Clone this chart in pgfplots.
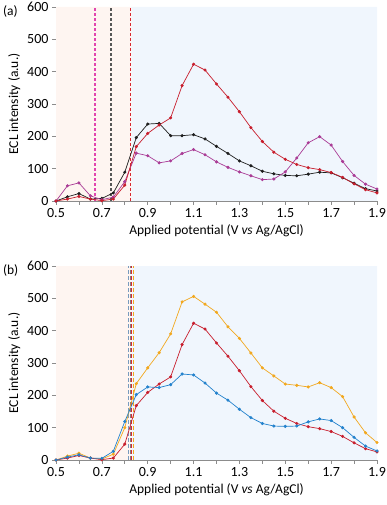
\documentclass[border=0pt]{standalone}
\usepackage{fontspec}
\setmainfont{Carlito}
\usepackage{pgfplots}
\pgfplotsset{compat=1.18}
\definecolor{redser}{RGB}{200,30,45}
\definecolor{blackser}{RGB}{30,30,30}
\definecolor{magser}{RGB}{170,60,150}
\definecolor{orangeser}{RGB}{242,168,30}
\definecolor{blueser}{RGB}{35,130,205}
\definecolor{pinkdash}{RGB}{225,70,175}
\definecolor{reddash}{RGB}{215,40,50}
\definecolor{steeldash}{RGB}{120,155,190}
\definecolor{pinkbg}{RGB}{254,245,241}
\definecolor{bluebg}{RGB}{240,246,253}
\definecolor{axgray}{RGB}{140,140,140}

\pgfplotsset{
  eclax/.style={
    scale only axis, width=321pt, height=194pt,
    xmin=0.5, xmax=1.9, ymin=0, ymax=600,
    axis x line*=bottom, axis y line*=left,
    every outer x axis line/.append style={-},
    every outer y axis line/.append style={-},
    axis line style={axgray, line width=0.7pt},
    xtick={0.5,0.7,...,1.91}, minor xtick={0.6,0.8,...,1.81},
    ytick={0,100,...,600},
    tick align=outside, major tick length=4pt, minor tick length=4pt,
    tick style={axgray, line width=0.6pt},
    xticklabel style={/pgf/number format/.cd, fixed, fixed zerofill, precision=1},
    /pgf/number format/assume math mode=true,
    tick label style={font=\fontsize{14}{16}\selectfont},
    label style={font=\fontsize{13.5}{15}\selectfont},
    xlabel={Applied potential (V \textit{vs} Ag/AgCl)},
    ylabel={ECL intensity (a.u.)},
    clip=false,
    every axis plot/.append style={line width=0.7pt, mark size=1.2pt},
  },
}

\begin{document}
\begin{tikzpicture}
\path[use as bounding box] (0,0) rectangle (387pt,505pt);

% ---------------- panel (a)
\begin{axis}[eclax, at={(56pt,304pt)}, anchor=south west]
\addplot[draw=none, fill=pinkbg] coordinates {(0.5,0)(0.83,0)(0.83,600)(0.5,600)} \closedcycle;
\addplot[draw=none, fill=bluebg] coordinates {(0.83,0)(1.9,0)(1.9,600)(0.83,600)} \closedcycle;
\addplot[pinkdash, dash pattern=on 3pt off 2pt, line width=1.1pt, mark=none] coordinates {(0.67,0)(0.67,600)};
\addplot[blackser!75, dash pattern=on 3pt off 2pt, line width=1.1pt, mark=none] coordinates {(0.74,0)(0.74,600)};
\addplot[reddash, dash pattern=on 3pt off 2pt, line width=1.2pt, mark=none] coordinates {(0.826,0)(0.826,600)};

% black
\addplot[blackser, mark=*] coordinates {
(0.5,0)(0.55,13)(0.6,23)(0.65,6)(0.7,8)(0.75,25)(0.8,89)(0.85,196)(0.9,238)(0.95,240)
(1.0,202)(1.05,202)(1.1,205)(1.15,192)(1.2,169)(1.25,147)(1.3,124)(1.35,109)(1.4,92)
(1.45,84)(1.5,79)(1.55,78)(1.6,83)(1.65,89)(1.7,87)(1.75,72)(1.8,55)(1.85,38)(1.9,31)};
% magenta
\addplot[magser, mark=*] coordinates {
(0.5,0)(0.55,47)(0.6,56)(0.65,16)(0.7,4)(0.75,12)(0.8,60)(0.85,148)(0.9,140)(0.95,118)
(1.0,124)(1.05,147)(1.1,159)(1.15,143)(1.2,121)(1.25,104)(1.3,90)(1.35,78)(1.4,66)
(1.45,68)(1.5,90)(1.55,133)(1.6,180)(1.65,199)(1.7,173)(1.75,122)(1.8,79)(1.85,52)(1.9,37)};
% red
\addplot[redser, mark=*] coordinates {
(0.5,0)(0.55,6)(0.6,14)(0.65,6)(0.7,1)(0.75,6)(0.8,49)(0.85,168)(0.9,209)(0.95,235)
(1.0,257)(1.05,357)(1.1,423)(1.15,405)(1.2,362)(1.25,321)(1.3,276)(1.35,227)(1.4,184)
(1.45,151)(1.5,129)(1.55,113)(1.6,103)(1.65,97)(1.7,88)(1.75,73)(1.8,53)(1.85,35)(1.9,25)};

\node[anchor=west, font=\fontsize{13.5}{15}\selectfont] at (rel axis cs:-0.176,0.975) {(a)};
\end{axis}

% ---------------- panel (b)
\begin{axis}[eclax, at={(56pt,45pt)}, anchor=south west]
\addplot[draw=none, fill=pinkbg] coordinates {(0.5,0)(0.83,0)(0.83,600)(0.5,600)} \closedcycle;
\addplot[draw=none, fill=bluebg] coordinates {(0.83,0)(1.9,0)(1.9,600)(0.83,600)} \closedcycle;
\addplot[steeldash, dash pattern=on 4pt off 2pt, line width=1.1pt, mark=none] coordinates {(0.815,0)(0.815,600)};
\addplot[gray, dash pattern=on 4pt off 2pt, line width=1.1pt, mark=none] coordinates {(0.823,0)(0.823,600)};
\addplot[reddash, dash pattern=on 4pt off 2pt, line width=1.1pt, mark=none] coordinates {(0.831,0)(0.831,600)};
\addplot[orangeser, dash pattern=on 4pt off 2pt, line width=1.1pt, mark=none] coordinates {(0.839,0)(0.839,600)};

% orange
\addplot[orangeser, mark=*] coordinates {
(0.5,0)(0.55,12)(0.6,21)(0.65,6)(0.7,3)(0.75,18)(0.8,100)(0.85,236)(0.9,285)(0.95,332)
(1.0,390)(1.05,489)(1.1,506)(1.15,482)(1.2,457)(1.25,412)(1.3,376)(1.35,331)(1.4,285)
(1.45,260)(1.5,235)(1.55,231)(1.6,226)(1.65,239)(1.7,224)(1.75,196)(1.8,133)(1.85,84)(1.9,54)};
% red
\addplot[redser, mark=*] coordinates {
(0.5,0)(0.55,6)(0.6,14)(0.65,6)(0.7,1)(0.75,6)(0.8,49)(0.85,168)(0.9,209)(0.95,235)
(1.0,257)(1.05,357)(1.1,423)(1.15,405)(1.2,362)(1.25,321)(1.3,276)(1.35,227)(1.4,184)
(1.45,151)(1.5,129)(1.55,113)(1.6,103)(1.65,97)(1.7,88)(1.75,73)(1.8,53)(1.85,35)(1.9,25)};
% blue
\addplot[blueser, mark=*] coordinates {
(0.5,0)(0.55,9)(0.6,16)(0.65,6)(0.7,5)(0.75,27)(0.8,119)(0.85,202)(0.9,226)(0.95,224)
(1.0,233)(1.05,266)(1.1,263)(1.15,238)(1.2,207)(1.25,185)(1.3,157)(1.35,131)(1.4,113)
(1.45,105)(1.5,104)(1.55,105)(1.6,118)(1.65,127)(1.7,122)(1.75,100)(1.8,70)(1.85,43)(1.9,28)};

\node[anchor=west, font=\fontsize{13.5}{15}\selectfont] at (rel axis cs:-0.176,0.975) {(b)};
\end{axis}
\end{tikzpicture}
\end{document}
